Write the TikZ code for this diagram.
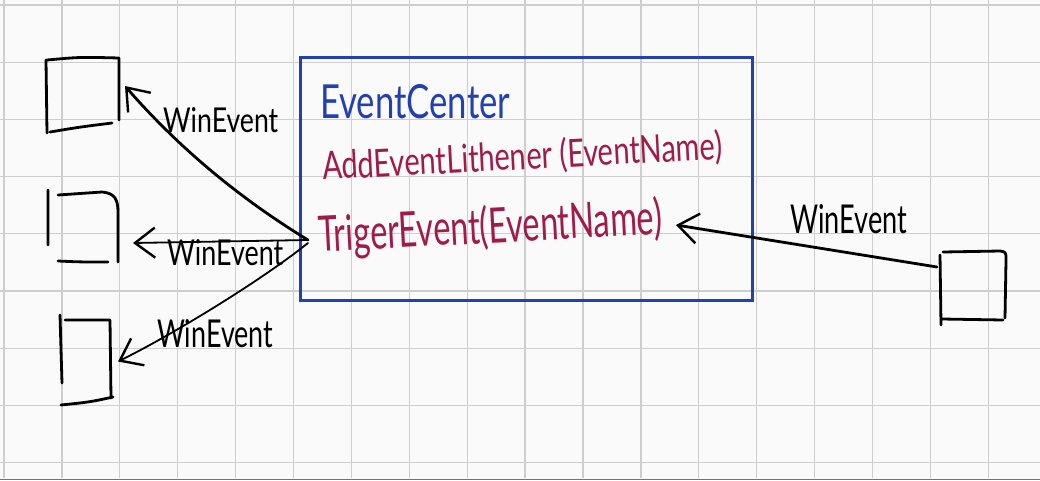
\documentclass[tikz,border=0pt]{standalone}
\usepackage{fontspec}
\setmainfont{Lato}
\usetikzlibrary{arrows.meta}
\definecolor{inkblue}{RGB}{34,64,176}
\definecolor{inkred}{RGB}{160,28,72}
\definecolor{gridc}{RGB}{206,206,206}
\tikzset{
  ink/.style={line width=2.8pt, black, line cap=round, line join=round},
  thinink/.style={line width=1.8pt, black, line cap=round, line join=round},
  barb/.style={-{Straight Barb[length=20pt,width=30pt,line width=2.4pt]}},
  boxnode/.style={minimum width=#1, inner sep=0pt, outer sep=0pt},
  lbl/.style={inner sep=0pt, anchor=base west, black},
}
\begin{document}
\begin{tikzpicture}[x=1pt,y=-1pt]
\useasboundingbox (0,0) rectangle (1040,480);
\fill[white!98!black] (0,0) rectangle (1040,480);
% grid
\foreach \k in {0,...,17} \draw[gridc, line width=1.3pt] ({4+57.9*\k},0) -- ({4+57.9*\k},478);
\foreach \k in {0,...,8} \draw[gridc, line width=1.3pt] (0,{5+57.2*\k}) -- (1040,{5+57.2*\k});
\draw[black!55, line width=1.5pt] (0,479.3) -- (1040,479.3);

% event center box
\node[draw=inkblue, line width=3pt, minimum width=452pt, minimum height=243pt, inner sep=0pt] (ec) at (526,178.5) {};
\node[inkblue, inner sep=0pt, anchor=base west] (title) at (320,118) {\resizebox{190pt}{34pt}{EventCenter}};
\node[inkred, inner sep=0pt, anchor=base west, rotate=3] (add) at (323,180) {\resizebox{400pt}{30pt}{AddEventLithener (EventName)}};
\node[inkred, inner sep=0pt, anchor=base west, rotate=3] (trig) at (319,252) {\resizebox{344pt}{38pt}{TrigerEvent(EventName)}};

% left boxes
\node[boxnode=75pt, minimum height=74pt] (b1) at (82.5,95) {};
\node[boxnode=70pt, minimum height=72pt] (b2) at (83,226) {};
\node[boxnode=55pt, minimum height=87pt] (b3) at (85.5,358.5) {};
\node[boxnode=67pt, minimum height=70pt] (b4) at (973.5,286) {};

% box strokes (hand-drawn look)
\draw[ink] (46,60) -- (47,133) (47,60) .. controls (80,57) .. (119,58) -- (119,120) (50,132) .. controls (80,127) .. (112,123);
\draw[ink] (48,190) -- (48,245) (58,195) -- (102,192) .. controls (115,193) and (118,200) .. (118,212) -- (118,262) (58,261) .. controls (80,262) .. (108,262);
\draw[ink] (60,315) -- (62,383) (65,320) -- (110,320) -- (111,398) (61,405) .. controls (90,402) .. (113,397);
\draw[ink] (940,255) -- (941,325) (943,252) -- (1000,251) .. controls (1006,252) .. (1006,260) -- (1005,318) (942,319) -- (1003,320);

% connectors
\coordinate (src) at (308,240);
\coordinate (tin) at (676,225);
\draw[ink, barb] (src) .. controls (239,198) and (178,147) .. ([xshift=5pt,yshift=9pt]b1.east);
\draw[thinink, barb] (src) -- ([xshift=15pt,yshift=-17pt]b2.east);
\draw[thinink, barb] ([yshift=-3pt]src) .. controls (262,280) and (172,335) .. ([xshift=5pt,yshift=-3pt]b3.east);
\draw[ink, barb] ([xshift=-3pt,yshift=19pt]b4.west) -- (tin);

% labels
\node[lbl] (l1) at (163,132) {\resizebox{115pt}{25pt}{WinEvent}};
\node[lbl] (l2) at (167,265) {\resizebox{116pt}{26pt}{WinEvent}};
\node[lbl] (l3) at (157,347) {\resizebox{116pt}{28pt}{WinEvent}};
\node[lbl] (l4) at (790,233) {\resizebox{117pt}{29pt}{WinEvent}};
\end{tikzpicture}
\end{document}
